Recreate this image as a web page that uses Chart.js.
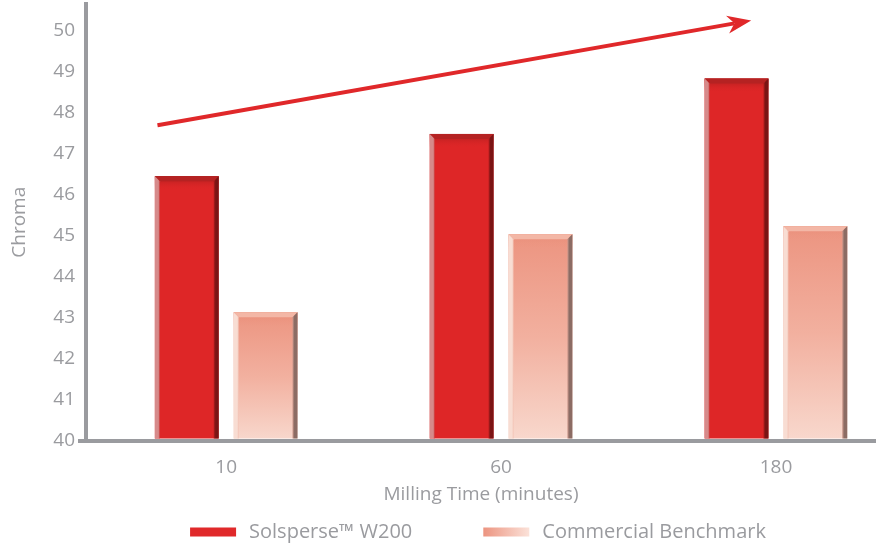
<!DOCTYPE html>
<html><head><meta charset="utf-8">
<script src="https://cdn.jsdelivr.net/npm/chart.js@4"></script>
<style>html,body{margin:0;padding:0;background:#fff;overflow:hidden}#wrap{width:876px;height:548px;position:relative}</style>
</head><body><div id="wrap"><canvas id="c"></canvas></div>
<script>
// ---- data ----
const categories = ['10', '60', '180'];
const solsperseW200 = [46.45, 47.48, 48.83];
const commercialBenchmark = [43.13, 45.03, 45.23];
const yTickValues = [40, 41, 42, 43, 44, 45, 46, 47, 48, 49, 50];
const seriesNames = ['Solsperse\u2122 W200', 'Commercial Benchmark'];
const trendArrow = [[-0.25, 47.69], [1.91, 50.25]]; // [x(category index), y(chroma)]

const GRAY = '#9a9b9f';
const FONT = '"Open Sans", "Noto Sans", sans-serif';

function pinkFill(ctx) {
  const chart = ctx.chart;
  if (!chart.chartArea || !ctx.raw) return '#f0a08c';
  const ys = chart.scales.y;
  const top = ys.getPixelForValue(ctx.raw.y);
  const bot = ys.getPixelForValue(ys.min);
  const g = chart.ctx.createLinearGradient(0, top, 0, bot);
  g.addColorStop(0, '#ec9480');
  g.addColorStop(0.5, '#f2b09f');
  g.addColorStop(1, '#f8d8cd');
  return g;
}

const bevelPlugin = {
  id: 'bevel',
  afterDatasetsDraw(chart) {
    const ctx = chart.ctx;
    chart.data.datasets.forEach((ds, di) => {
      const meta = chart.getDatasetMeta(di);
      const st = ds.bevel;
      meta.data.forEach(el => {
        const p = el.getProps(['x', 'y', 'base', 'width'], true);
        const l = p.x - p.width / 2, r = p.x + p.width / 2, t = p.y, b = Math.min(p.base, chart.chartArea.bottom);
        const e = 5;
        ctx.save();
        // top band
        let g = ctx.createLinearGradient(0, t, 0, t + 14);
        g.addColorStop(0, st.top);
        g.addColorStop(1, st.topFade);
        ctx.fillStyle = g;
        ctx.fillRect(l, t, r - l, 14);
        ctx.beginPath();
        ctx.moveTo(l, t); ctx.lineTo(r, t); ctx.lineTo(r - e, t + e); ctx.lineTo(l + e, t + e); ctx.closePath();
        ctx.fillStyle = st.topEdge; ctx.fill();
        // left
        ctx.beginPath();
        ctx.moveTo(l, t); ctx.lineTo(l + e, t + e); ctx.lineTo(l + e, b); ctx.lineTo(l, b); ctx.closePath();
        g = ctx.createLinearGradient(l, 0, l + e, 0);
        g.addColorStop(0, st.left); g.addColorStop(0.7, st.left); g.addColorStop(1, st.leftIn);
        ctx.fillStyle = g; ctx.fill();
        // right
        ctx.beginPath();
        ctx.moveTo(r, t); ctx.lineTo(r, b); ctx.lineTo(r - e, b); ctx.lineTo(r - e, t + e); ctx.closePath();
        g = ctx.createLinearGradient(r - e, 0, r, 0);
        g.addColorStop(0, st.rightIn); g.addColorStop(0.4, st.right); g.addColorStop(1, st.right);
        ctx.fillStyle = g; ctx.fill();
        ctx.restore();
      });
    });
    // trend arrow
    const xs = chart.scales.x, ys = chart.scales.y;
    const x1 = xs.getPixelForValue(trendArrow[0][0]), y1 = ys.getPixelForValue(trendArrow[0][1]);
    const x2 = xs.getPixelForValue(trendArrow[1][0]), y2 = ys.getPixelForValue(trendArrow[1][1]);
    const ang = Math.atan2(y2 - y1, x2 - x1);
    const L = 24, W = 9, N = 17;
    ctx.save();
    ctx.strokeStyle = '#e0282a'; ctx.fillStyle = '#e0282a';
    ctx.lineWidth = 4;
    ctx.beginPath();
    ctx.moveTo(x1, y1);
    ctx.lineTo(x2 - Math.cos(ang) * N, y2 - Math.sin(ang) * N);
    ctx.stroke();
    const bx = x2 - Math.cos(ang) * L, by = y2 - Math.sin(ang) * L;
    const px = -Math.sin(ang), py = Math.cos(ang);
    ctx.beginPath();
    ctx.moveTo(x2, y2);
    ctx.lineTo(bx + px * W, by + py * W);
    ctx.lineTo(x2 - Math.cos(ang) * N, y2 - Math.sin(ang) * N);
    ctx.lineTo(bx - px * W, by - py * W);
    ctx.closePath();
    ctx.fill();
    ctx.restore();
  }
};

const legendPlugin = {
  id: 'customLegend',
  afterDraw(chart) {
    const ctx = chart.ctx;
    ctx.save();
    ctx.font = '20px ' + FONT;
    const boxW = 46, boxH = 9, gapText = 13, gapItem = 71;
    const items = chart.data.datasets.map(d => ({ text: d.label, w: ctx.measureText(d.label).width, ds: d }));
    const total = items.reduce((s, it) => s + boxW + gapText + it.w, 0) + gapItem * (items.length - 1);
    let x = 478 - total / 2;
    const y = 532;
    items.forEach((it, i) => {
      if (i === 0) {
        ctx.fillStyle = '#e0292a';
      } else {
        const g = ctx.createLinearGradient(x, 0, x + boxW, 0);
        g.addColorStop(0, '#ec9480'); g.addColorStop(1, '#fbe2d9');
        ctx.fillStyle = g;
      }
      ctx.fillRect(x, y - boxH / 2, boxW, boxH);
      x += boxW + gapText;
      ctx.fillStyle = GRAY;
      ctx.textBaseline = 'middle';
      ctx.textAlign = 'left';
      ctx.fillText(it.text, x, y);
      x += it.w + gapItem;
    });
    ctx.restore();
  }
};

const data = {
  datasets: [
    {
      label: seriesNames[0],
      data: solsperseW200.map((v, i) => ({ x: i, y: v })),
      base: yTickValues[0],
      backgroundColor: '#de2627',
      bevel: { top: '#a81d1d', topFade: 'rgba(222,38,39,0)', topEdge: '#b52222', left: '#d68a8a', leftIn: '#c94040', right: '#7a1414', rightIn: '#b21d1d' }
    },
    {
      label: seriesNames[1],
      data: commercialBenchmark.map((v, i) => ({ x: i, y: v })),
      base: yTickValues[0],
      backgroundColor: pinkFill,
      bevel: { top: 'rgba(232,138,116,0.6)', topFade: 'rgba(236,148,128,0)', topEdge: '#f3b7a6', left: '#f8ddd3', leftIn: '#f2c2b4', right: '#8c6c64', rightIn: '#c9968a' }
    }
  ]
};

new Chart(document.getElementById('c'), {
  type: 'bar',
  data,
  plugins: [bevelPlugin, legendPlugin],
  options: {
    responsive: true,
    maintainAspectRatio: false,
    animation: false,
    categoryPercentage: 0.5735,
    barPercentage: 0.81,
    layout: { padding: { top: 4, right: 0, bottom: 40, left: 0 } },
    plugins: { legend: { display: false }, tooltip: { enabled: false } },
    scales: {
      x: {
        type: 'linear',
        offset: false,
        min: -0.51,
        max: 2.364,
        afterBuildTicks: s => { s.ticks = categories.map((c, i) => ({ value: i })); },
        afterFit: s => { s.height = 67.5; s.paddingLeft = 0; s.paddingRight = 0; },
        grid: { display: false },
        border: { display: true, color: GRAY, width: 4 },
        ticks: { color: GRAY, font: { family: FONT, size: 19 }, padding: 8, callback: v => categories[Math.round(v)] },
        title: { display: true, text: 'Milling Time (minutes)', color: GRAY, font: { family: FONT, size: 19 }, padding: { top: 4, bottom: 2 } }
      },
      y: {
        min: 40,
        max: 50.65,
        afterBuildTicks: s => { s.ticks = yTickValues.map(v => ({ value: v })); },
        afterFit: s => { s.width = 86; s.paddingTop = 0; s.paddingBottom = 0; },
        grid: { display: true, drawOnChartArea: false, drawTicks: true, tickLength: 8, lineWidth: 4, color: c => (c.tick && c.tick.value === 40 ? GRAY : 'rgba(0,0,0,0)') },
        border: { display: true, color: GRAY, width: 4 },
        ticks: { color: GRAY, font: { family: FONT, size: 19 }, padding: 3 },
        title: { display: true, text: 'Chroma', color: GRAY, font: { family: FONT, size: 19 }, padding: { top: 8, bottom: 0 } }
      }
    }
  }
});
</script></body></html>
